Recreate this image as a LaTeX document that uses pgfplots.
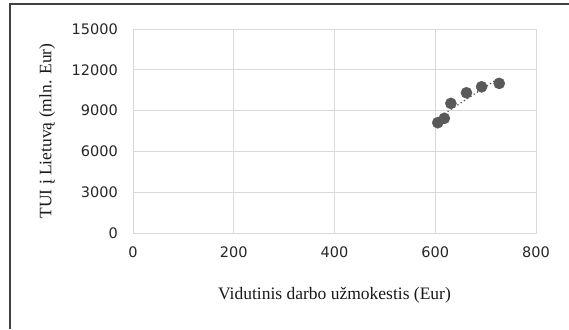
\documentclass[border=0pt]{standalone}
\usepackage{fontspec}
\setmainfont{Liberation Serif}
\newfontfamily\ticksfont{DejaVu Sans}
\usepackage{pgfplots}
\usepackage{pgfplotstable}
\pgfplotsset{compat=1.18}

\definecolor{gridgray}{HTML}{D9D9D9}
\definecolor{markgray}{HTML}{595959}
\definecolor{framegray}{HTML}{404040}

% Average wage (Eur) vs. FDI into Lithuania (mln. Eur)
\pgfplotstableread{
wage fdi
605 8110
618 8430
631 9530
662 10310
692 10750
727 11000
}\fdidata

\begin{document}
\begin{tikzpicture}
\useasboundingbox (0pt,0pt) rectangle (569pt,329pt);
\draw[framegray, line width=1.3pt] (10pt,0pt) -- (10pt,325pt) -- (569pt,325pt);
\begin{axis}[
  at={(133pt,96pt)}, anchor=south west,
  scale only axis, width=403pt, height=204pt,
  xmin=0, xmax=800, ymin=0, ymax=15000,
  xtick={0,200,...,800}, ytick={0,3000,...,15000},
  scaled ticks=false,
  major tick length=0pt,
  grid=major,
  major grid style={gridgray, line width=0.9pt},
  axis line style={gridgray, line width=0.9pt},
  /pgf/number format/1000 sep={},
  /pgf/number format/assume math mode=true,
  ticklabel style={font=\ticksfont\fontsize{14.5}{16}\selectfont, text=black!85},
  yticklabel style={anchor=east, inner sep=0pt, xshift=-15pt},
  xticklabel style={anchor=center, inner sep=0pt, yshift=-19pt},
  xlabel={Vidutinis darbo užmokestis (Eur)},
  ylabel={TUI į Lietuvą (mln. Eur)},
  label style={font=\fontsize{17.5}{19}\selectfont, text=black!90},
  xlabel style={at={(axis description cs:0.5,-0.304)}, anchor=center},
  ylabel style={at={(axis description cs:-0.213,0.5)}, anchor=center},
  clip=false,
]
\addplot[only marks, mark=*, mark size=5.6pt, mark options={fill=markgray, draw=markgray}]
  table[x=wage, y=fdi] {\fdidata};
\addplot[markgray, line width=1.3pt, dash pattern=on 1.3pt off 2.6pt, no marks]
  table[x=wage, y={create col/linear regression={y=fdi}}] {\fdidata};
\end{axis}
\end{tikzpicture}
\end{document}
